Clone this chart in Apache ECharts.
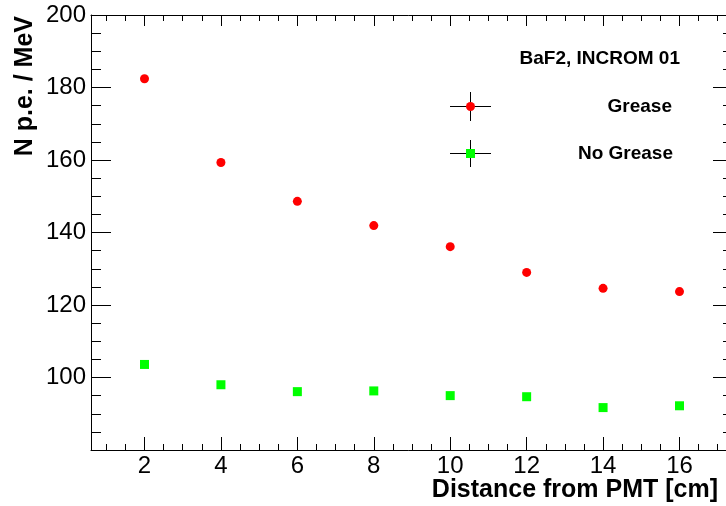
<!DOCTYPE html>
<html>
<head>
<meta charset="utf-8">
<script src="https://cdn.jsdelivr.net/npm/echarts@6/dist/echarts.min.js"></script>
<style>
html, body { margin: 0; padding: 0; background: #fff; }
#chart { width: 726px; height: 506px; }
</style>
</head>
<body>
<div id="chart"></div>
<script>
// distance from PMT (cm)
var distances = [2, 4, 6, 8, 10, 12, 14, 16];
// N p.e. / MeV
var greaseValues = [182.4, 159.3, 148.6, 141.9, 136.1, 129.0, 124.6, 123.7];
var noGreaseValues = [103.6, 98.0, 96.1, 96.3, 95.0, 94.7, 91.7, 92.2];

var xMin = 0.6, xMax = 17.4;
var yMin = 80, yMax = 200;

var font = '"Liberation Sans", Arial, sans-serif';

function pairs(xs, ys) {
    var out = [];
    for (var i = 0; i < xs.length; i++) {
        out.push([xs[i], ys[i]]);
    }
    return out;
}

// x axes: one for majors+labels, one for the 0.5 minor ticks (bottom and top)
function xAxisDef(pos, splitNumber, tickLen, labels, line) {
    return {
        type: 'value',
        position: pos,
        min: xMin,
        max: xMax,
        splitNumber: splitNumber,
        axisLine: { show: line, onZero: false, lineStyle: { color: '#000', width: 1 } },
        axisTick: { show: true, inside: true, length: tickLen, lineStyle: { color: '#000', width: 1 } },
        axisLabel: {
            show: labels,
            margin: 4,
            color: '#000',
            fontFamily: font,
            fontSize: 24,
            formatter: function (v) {
                return (Math.abs(v % 2) < 1e-6) ? String(v) : '';
            }
        },
        splitLine: { show: false }
    };
}

function yAxisDef(pos, labels) {
    return {
        type: 'value',
        position: pos,
        min: yMin,
        max: yMax,
        interval: 20,
        axisLine: { show: true, onZero: false, lineStyle: { color: '#000', width: 1 } },
        axisTick: { show: true, inside: true, length: 20, lineStyle: { color: '#000', width: 1 } },
        minorTick: { show: true, splitNumber: 4, length: 10, lineStyle: { color: '#000', width: 1 } },
        axisLabel: {
            show: labels,
            margin: 5,
            color: '#000',
            fontFamily: font,
            fontSize: 24,
            showMinLabel: false
        },
        splitLine: { show: false }
    };
}

var myChart = echarts.init(document.getElementById('chart'), null, { renderer: 'canvas' });

myChart.setOption({
    animation: false,
    backgroundColor: '#fff',
    grid: { left: 91, top: 15, width: 642, height: 435, outerBoundsMode: 'none', containLabel: false },
    xAxis: [
        xAxisDef('bottom', 8, 13, true, true),
        xAxisDef('bottom', 34, 6, false, false),
        xAxisDef('top', 8, 11, false, true),
        xAxisDef('top', 34, 6, false, false)
    ],
    yAxis: [
        yAxisDef('left', true),
        yAxisDef('right', false)
    ],
    series: [
        {
            name: 'Grease',
            type: 'scatter',
            xAxisIndex: 0,
            yAxisIndex: 0,
            symbol: 'circle',
            symbolSize: 9,
            itemStyle: { color: '#ff0000', opacity: 1 },
            data: pairs(distances, greaseValues)
        },
        {
            name: 'No Grease',
            type: 'scatter',
            xAxisIndex: 0,
            yAxisIndex: 0,
            symbol: 'rect',
            symbolSize: 9,
            itemStyle: { color: '#00ff00', opacity: 1 },
            data: pairs(distances, noGreaseValues)
        }
    ],
    graphic: [
        // axis titles
        {
            type: 'text', x: 718, y: 490,
            style: { text: 'Distance from PMT [cm]', font: 'bold 25px ' + font, fill: '#000', align: 'right', verticalAlign: 'middle' }
        },
        {
            type: 'text', x: 25, y: 16, rotation: Math.PI / 2,
            style: { text: 'N p.e. / MeV', font: 'bold 25px ' + font, fill: '#000', align: 'right', verticalAlign: 'middle' }
        },
        // header text
        {
            type: 'text', x: 680, y: 59,
            style: { text: 'BaF2, INCROM 01', font: 'bold 19px ' + font, fill: '#000', align: 'right', verticalAlign: 'middle' }
        },
        // legend: Grease
        { type: 'line', shape: { x1: 450, y1: 106.5, x2: 491, y2: 106.5 }, style: { stroke: '#000', lineWidth: 1 } },
        { type: 'line', shape: { x1: 470.5, y1: 92, x2: 470.5, y2: 121 }, style: { stroke: '#000', lineWidth: 1 } },
        { type: 'circle', shape: { cx: 470.5, cy: 106.5, r: 4.5 }, style: { fill: '#ff0000' } },
        {
            type: 'text', x: 672, y: 107,
            style: { text: 'Grease', font: 'bold 19px ' + font, fill: '#000', align: 'right', verticalAlign: 'middle' }
        },
        // legend: No Grease
        { type: 'line', shape: { x1: 450, y1: 153.5, x2: 491, y2: 153.5 }, style: { stroke: '#000', lineWidth: 1 } },
        { type: 'line', shape: { x1: 470.5, y1: 140, x2: 470.5, y2: 167 }, style: { stroke: '#000', lineWidth: 1 } },
        { type: 'rect', shape: { x: 466, y: 149, width: 9, height: 9 }, style: { fill: '#00ff00' } },
        {
            type: 'text', x: 673, y: 154,
            style: { text: 'No Grease', font: 'bold 19px ' + font, fill: '#000', align: 'right', verticalAlign: 'middle' }
        }
    ]
});
</script>
</body>
</html>
